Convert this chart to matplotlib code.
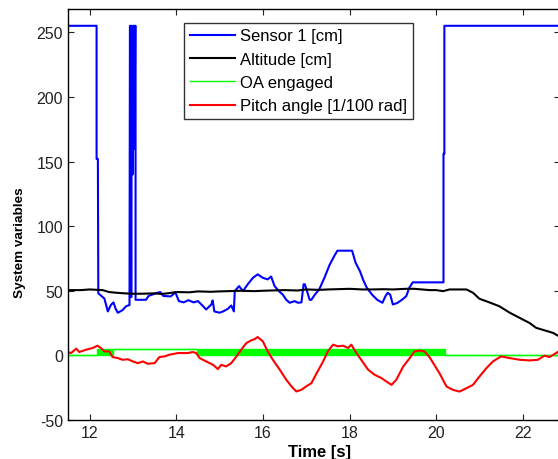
import numpy as np
import matplotlib
matplotlib.use("Agg")
import matplotlib.pyplot as plt

plt.rcParams['font.family'] = ['Liberation Sans', 'DejaVu Sans']
plt.rcParams['axes.unicode_minus'] = False

# Sensor 1 [cm] (time [s], value)
sensor_t = [11.45, 12.16, 12.16, 12.19, 12.20, 12.34, 12.42, 12.49, 12.55, 12.60,
            12.65, 12.76, 12.84, 12.92, 12.93, 12.95, 12.96, 12.97, 12.99, 13.00,
            13.03, 13.04, 13.05, 13.06, 13.06, 13.30, 13.36, 13.57, 13.63, 13.70,
            13.87, 13.98, 14.06, 14.17, 14.28, 14.40, 14.50, 14.58, 14.69, 14.81,
            14.84, 14.88, 15.00, 15.08, 15.19, 15.27, 15.33, 15.35, 15.45, 15.54,
            15.65, 15.77, 15.88, 16.00, 16.11, 16.19, 16.27, 16.37, 16.46, 16.54,
            16.62, 16.73, 16.81, 16.89, 16.94, 16.97, 17.08, 17.12, 17.20, 17.30,
            17.42, 17.54, 17.65, 17.72, 18.06, 18.14, 18.24, 18.32, 18.40, 18.52,
            18.64, 18.76, 18.83, 18.88, 18.94, 19.00, 19.10, 19.21, 19.31, 19.38,
            19.46, 20.17, 20.17, 20.19, 20.19, 22.90]
sensor_v = [255, 255, 152, 152, 48, 44, 34, 39, 41, 36,
            33, 35, 38, 39, 255, 255, 45, 255, 140, 255,
            255, 160, 255, 255, 43, 43, 46, 48.5, 49, 46,
            45.6, 48.7, 42, 41, 42.7, 41, 42, 39.4, 35.5, 39.4,
            42.5, 34, 33, 34, 36, 38.6, 34, 49.7, 53.6, 49.7,
            55, 60, 62.7, 60, 58.8, 61, 53.6, 49.7, 47, 43,
            40.7, 42, 40.7, 41, 55, 55, 43, 43, 47, 51,
            60, 70, 77, 81, 81, 71.7, 65.2, 58, 52.3, 47,
            43, 40.7, 45.8, 48.4, 47, 39.4, 40.5, 43, 45.8, 52.3,
            56.5, 56.5, 156, 156, 255, 255]

# Altitude [cm]
alt_t = [11.45, 11.80, 12.00, 12.30, 12.45, 12.60, 12.80, 13.00, 13.20, 13.50,
         13.65, 13.80, 14.00, 14.30, 14.50, 14.80, 15.00, 15.30, 15.50, 15.80,
         16.00, 16.30, 16.50, 16.80, 17.00, 17.30, 17.50, 17.80, 18.00, 18.30,
         18.50, 18.80, 19.00, 19.30, 19.50, 19.85, 20.00, 20.16, 20.31, 20.50,
         20.70, 20.85, 21.00, 21.23, 21.46, 21.70, 21.93, 22.16, 22.31, 22.50,
         22.70, 22.85]
alt_v = [50.5, 50.5, 51, 50.5, 49, 48.5, 48, 47.7, 47.7, 48,
         47.5, 48, 49, 48.8, 49.5, 49.2, 49.5, 49.8, 50, 49.7,
         50, 50.3, 50.5, 50.2, 51, 50.7, 51, 51.3, 51.5, 51,
         51, 51.2, 51, 51.5, 51.5, 50.5, 50.5, 49.7, 51, 51,
         51, 48.5, 43.8, 41, 38, 33, 29, 25, 21.3, 19.4,
         17.4, 14.5]

# OA engaged: segment edges and low/high value per segment (0 = off, 5 = on, both = toggling)
oa_t = [11.45, 12.18, 12.53, 14.47, 20.20, 22.90]
oa_lo = [0, 0, 5, 0, 0]
oa_hi = [0, 5, 5, 5, 0]

# Pitch angle [1/100 rad]
pitch_t = [11.45, 11.57, 11.69, 11.76, 11.92, 12.07, 12.18, 12.26, 12.34, 12.45,
           12.53, 12.65, 12.76, 12.88, 13.00, 13.11, 13.23, 13.34, 13.50, 13.61,
           13.73, 13.84, 14.04, 14.27, 14.38, 14.46, 14.54, 14.69, 14.85, 14.96,
           15.04, 15.15, 15.27, 15.39, 15.50, 15.62, 15.73, 15.81, 15.88, 16.00,
           16.11, 16.23, 16.39, 16.54, 16.66, 16.77, 16.89, 17.00, 17.12, 17.23,
           17.39, 17.50, 17.62, 17.73, 17.85, 17.97, 18.04, 18.16, 18.27, 18.43,
           18.58, 18.74, 18.85, 18.97, 19.08, 19.24, 19.39, 19.50, 19.62, 19.73,
           19.85, 19.97, 20.08, 20.24, 20.39, 20.54, 20.70, 20.85, 21.00, 21.16,
           21.31, 21.50, 21.70, 21.93, 22.16, 22.35, 22.50, 22.62, 22.85]
pitch_v = [3, 1.8, 5.2, 2.6, 4.4, 5.7, 7.5, 5.7, 3.1, 3.1,
           -1.3, -2.1, -3.4, -3, -4.7, -6, -4.7, -6.5, -6, -1.3,
           -0.8, 0.5, 1.8, 1.8, 2.6, 1.8, -2.1, -4.7, -7.3, -10.6,
           -7.3, -8.6, -6, -0.8, 4.4, 9.6, 11.6, 12.6, 14.2, 10.8,
           3.1, -3.4, -11.1, -18.9, -24, -27.9, -26.6, -24, -21.5, -14.5,
           -4.7, 3.1, 8.3, 7, 7.5, 5.7, 8.3, 1.8, -3.4, -11.1,
           -15, -17.6, -20.2, -22.8, -18.9, -8.6, -2.1, 3.1, 3.7, 3.1,
           -1.5, -8, -14, -24.1, -26.7, -28, -25.4, -22.8, -16.4, -9.9,
           -4.7, -0.8, -2.1, -3.4, -3.9, -3.4, -0.2, -1.3, 3.5]

fig = plt.figure(figsize=(5.58, 4.60), dpi=100)
ax = fig.add_axes([68 / 558, 39 / 460, 492 / 558, 411 / 460])

ax.plot(sensor_t, sensor_v, color='#0000ff', lw=1.5, label='Sensor 1 [cm]')
ax.plot(alt_t, alt_v, color='black', lw=1.5, label='Altitude [cm]')

# OA engaged
oa_lo_s = oa_lo + [oa_lo[-1]]
oa_hi_s = oa_hi + [oa_hi[-1]]
ax.fill_between(oa_t, oa_lo_s, oa_hi_s, step='post', color='#00ff00', lw=0)
ax.step(oa_t, oa_lo_s, where='post', color='#00ff00', lw=1.0, label='OA engaged')
ax.step(oa_t, oa_hi_s, where='post', color='#00ff00', lw=1.0)

ax.plot(pitch_t, pitch_v, color='#ff0000', lw=1.5, label='Pitch angle [1/100 rad]')

ax.set_xlim(11.5, 22.86)
ax.set_ylim(-50, 268)
ax.set_xticks(np.arange(12, 23, 2))
ax.set_yticks(np.arange(-50, 251, 50))
ax.tick_params(direction='in', top=True, right=True, length=4, labelsize=11.5,
               colors='#222222', labelcolor='#222222')
for s in ax.spines.values():
    s.set_linewidth(1.0)

ax.set_xlabel('Time [s]', fontsize=12, fontweight='bold', labelpad=0)
ax.xaxis.set_label_coords(0.512, -0.058)
ax.set_ylabel('System variables', fontsize=9.7, fontweight='bold')
ax.yaxis.set_label_coords(-0.086, 0.433)

leg = ax.legend(loc='upper left', bbox_to_anchor=(0.2364, 0.967), fontsize=12,
                frameon=True, fancybox=False, edgecolor='#333333', framealpha=1,
                borderpad=0.35, labelspacing=0.5, handlelength=2.7,
                handletextpad=0.3, borderaxespad=0)
leg.get_frame().set_linewidth(1.0)

fig.savefig('out.png', dpi=100)
